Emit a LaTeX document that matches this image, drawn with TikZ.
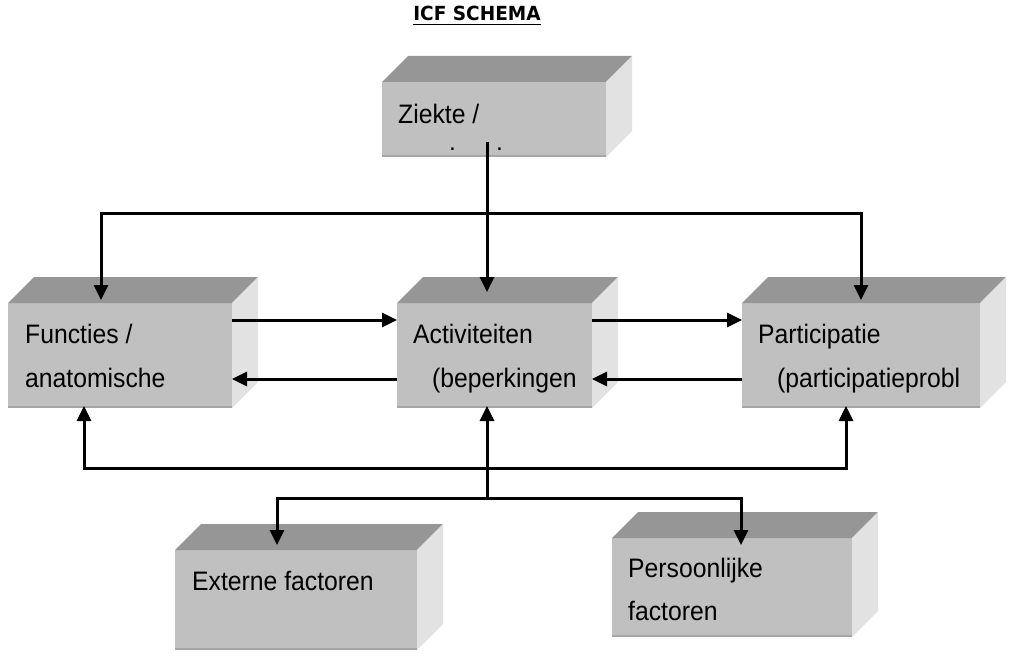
\documentclass[tikz,border=0pt]{standalone}
\usepackage{fontspec}
\usepackage{graphicx}
\setmainfont{Liberation Sans}
\newfontfamily\titlefont{DejaVu Sans}
\usetikzlibrary{arrows.meta,calc}
\definecolor{frontc}{HTML}{C0C0C0}
\definecolor{topc}{HTML}{969696}
\definecolor{sidec}{HTML}{E2E2E2}
\definecolor{edgec}{HTML}{A6A6A6}
\newcommand{\tallt}[1]{\scalebox{1.01}[1.09]{#1}}
\tikzset{
  front/.style={fill=frontc, draw=none, inner sep=0pt, outer sep=0pt},
  lbl/.style={anchor=base west, inner sep=0pt, font=\fontsize{24.5}{28}\selectfont},
  wire/.style={line width=3pt, line cap=rect},
  arr/.style={line width=3pt, -{Triangle[width=14pt,length=15pt]}},
}
\newcommand{\cube}[2]{% name, depth
  \fill[topc] (#1.north west) -- ++(#2,-#2) -- ($(#1.north east)+(#2,-#2)$) -- (#1.north east) -- cycle;
  \fill[sidec] (#1.north east) -- ++(#2,-#2) -- ($(#1.south east)+(#2,-#2)$) -- (#1.south east) -- cycle;
  \draw[edgec, line width=2pt] ([yshift=1pt]#1.south west) -- ([yshift=1pt]#1.south east);
}
\begin{document}
\begin{tikzpicture}[x=1pt,y=-1pt]
\useasboundingbox (0,0) rectangle (1024,666);
% title
\node[anchor=base, inner sep=0pt, font=\titlefont\bfseries\fontsize{18.5}{22}\selectfont] (title) at (477,21) {\scalebox{1}[1.05]{ICF SCHEMA}};
\draw[line width=1.8pt] ([yshift=-3.5pt]title.base west) -- ([yshift=-3.5pt]title.base east);
% boxes
\node[front, minimum width=224pt, minimum height=75pt] (zk) at (494,119.5) {};
\node[front, minimum width=224pt, minimum height=105pt] (fn) at (120,355.5) {};
\node[front, minimum width=195pt, minimum height=105pt] (ac) at (494.5,355.5) {};
\node[front, minimum width=238pt, minimum height=105pt] (pa) at (861,355.5) {};
\node[front, minimum width=242pt, minimum height=100pt] (ex) at (296,600) {};
\node[front, minimum width=240pt, minimum height=99pt] (pe) at (732,587.5) {};
\cube{zk}{26}
\cube{fn}{26}
\cube{ac}{26}
\cube{pa}{26}
\cube{ex}{26}
\cube{pe}{26}
% texts
\node[lbl] (zkt) at (398,123) {\tallt{Ziekte /}};
\node[lbl] (zkd1) at (449,150) {.};
\node[lbl] (zkd2) at (496,150) {.};
\node[lbl] (fnt1) at (25,343) {\tallt{Functies /}};
\node[lbl] (fnt2) at (25,387) {\tallt{anatomische}};
\node[lbl] (act1) at (413,343) {\tallt{Activiteiten}};
\node[lbl] (act2) at (432,387) {\tallt{(beperkingen}};
\node[lbl] (pat1) at (758,343) {\tallt{Participatie}};
\node[lbl] (pat2) at (777,387) {\tallt{(participatieprobl}};
\node[lbl] (ext) at (192,590) {\tallt{Externe factoren}};
\node[lbl] (pet1) at (628,577) {\tallt{Persoonlijke}};
\node[lbl] (pet2) at (628,620) {\tallt{factoren}};
% top connectors
\coordinate (tl) at (101,213);
\coordinate (tr) at (861,213);
\draw[wire] (tl) -- (tr);
\draw[arr, shorten >=3pt] (tl) -- (tl |- fn.north);
\draw[arr, shorten >=3pt] (tr) -- (tr |- pa.north);
\draw[arr, shorten >=11pt] ([xshift=-7pt,yshift=15pt]zk.south) -- ([xshift=-7.5pt]ac.north);
% horizontal connectors
\draw[arr] ([yshift=-17pt]fn.north east) -- ([yshift=-17pt]ac.north west);
\draw[arr] ([yshift=-17pt]ac.north east) -- ([yshift=-17pt]pa.north west);
\draw[arr] ([yshift=-76pt]pa.north west) -- ([yshift=-76pt]ac.north east);
\draw[arr] ([yshift=-76pt]ac.north west) -- ([yshift=-76pt]fn.north east);
% bottom connectors
\coordinate (bl) at (84,468);
\coordinate (br) at (846,468);
\coordinate (bc) at (487,498);
\coordinate (bel) at (277,498);
\coordinate (ber) at (741,498);
\draw[wire] (bl) -- (br);
\draw[wire] (bel) -- (ber);
\draw[arr, shorten >=-2pt] (bl) -- (bl |- fn.south);
\draw[arr, shorten >=-2pt] (br) -- (br |- pa.south);
\draw[arr, shorten >=-2pt] (bc) -- (bc |- ac.south);
\draw[arr, shorten >=5pt] (bel) -- (bel |- ex.north);
\draw[arr, shorten >=-7pt] (ber) -- (ber |- pe.north);
\end{tikzpicture}
\end{document}
